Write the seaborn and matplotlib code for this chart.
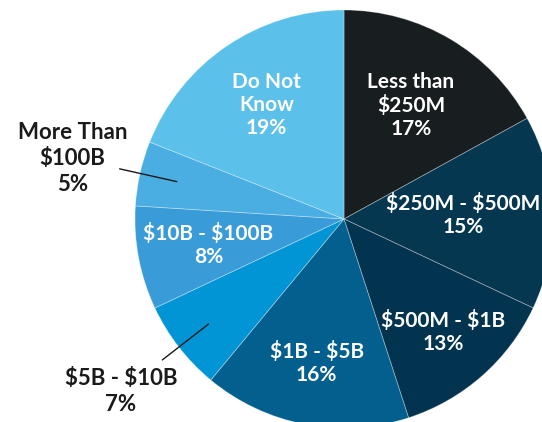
import numpy as np
import matplotlib
matplotlib.use("Agg")
import matplotlib.pyplot as plt
import seaborn as sns

# data
labels = ["Less than\n$250M", "$250M - $500M", "$500M - $1B", "$1B - $5B",
          "$5B - $10B", "$10B - $100B", "More Than\n$100B", "Do Not\nKnow"]
shares = [17, 15, 13, 16, 7, 8, 5, 19]

colors = ["#181e20", "#053751", "#023450", "#035f8e",
          "#0295d6", "#399cd8", "#4aaee3", "#5bc0ea"]
# where each label sits, as a fraction of radius along the slice mid-angle
label_r = [0.63, 0.57, 0.72, 0.70, 1.35, 0.66, 1.33, 0.66]
outside = [False, False, False, False, True, False, True, False]

sns.set_theme(style="white")
plt.rcParams["font.family"] = ["Lato", "DejaVu Sans"]

fig = plt.figure(figsize=(5.42, 4.22), dpi=100)
ax = fig.add_axes([0, 0, 1, 1])

cx, cy, R = 344, 203, 209
wedges, _ = ax.pie(shares, colors=colors, startangle=90, counterclock=False,
                   center=(cx, cy), radius=R,
                   wedgeprops=dict(edgecolor=(1, 1, 1, 0.35), linewidth=0.6))

for w, lab, val, fr, out in zip(wedges, labels, shares, label_r, outside):
    ang = np.deg2rad((w.theta1 + w.theta2) / 2)
    ca, sa = np.cos(ang), np.sin(ang)
    x, y = cx + fr * R * ca, cy + fr * R * sa
    if out:
        ax.text(x, y, f"{lab}\n{val}%", ha="center", va="center", color="#1a1a1a",
                fontsize=16, fontweight="bold", linespacing=1.3, parse_math=False)
        ax.plot([cx + 0.82 * R * ca, cx + 1.10 * R * ca],
                [cy + 0.82 * R * sa, cy + 1.10 * R * sa],
                color="#1a1a1a", lw=1)
    else:
        ax.text(x, y, f"{lab}\n{val}%", ha="center", va="center", color="white",
                fontsize=15, fontweight="bold", linespacing=1.17, parse_math=False)

ax.set_xlim(0, 542)
ax.set_ylim(0, 422)
ax.set_aspect("equal")
ax.axis("off")

fig.savefig("out.png", dpi=100, facecolor="white")
